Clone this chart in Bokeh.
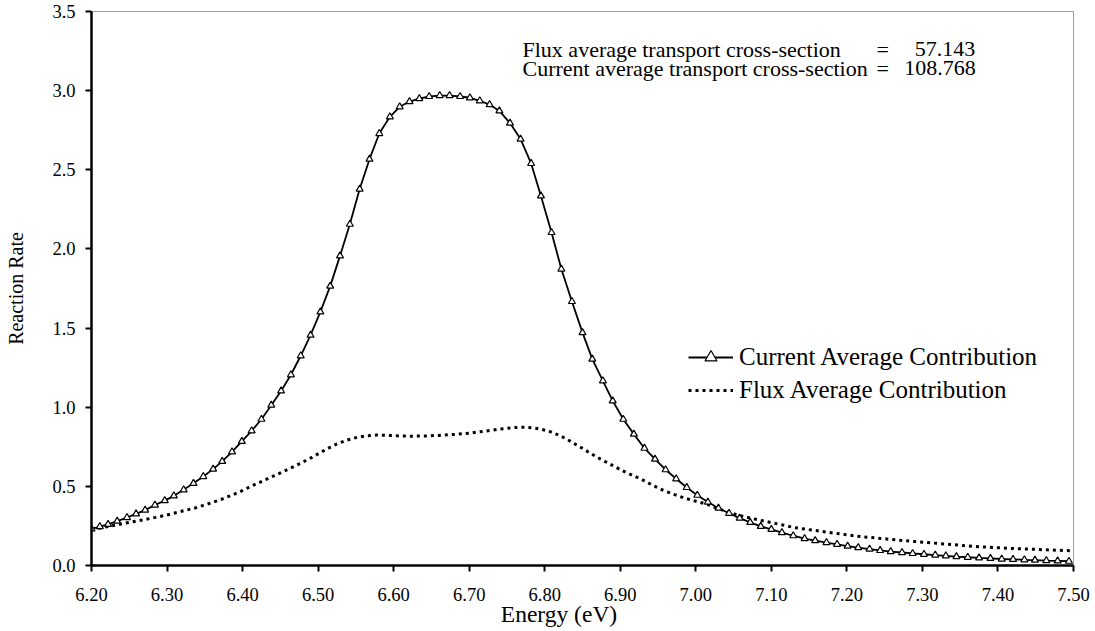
from bokeh.plotting import figure
from bokeh.models import (FixedTicker, PrintfTickFormatter, Legend, LegendItem,
                          Label, Range1d, ColumnDataSource)
from bokeh.embed import file_html
from bokeh.resources import INLINE

# ---------------- data ----------------
current_energy = [
    6.200, 6.211, 6.222, 6.234, 6.247, 6.259, 6.271, 6.284, 6.297, 6.309,
    6.322, 6.335, 6.348, 6.361, 6.373, 6.386, 6.399, 6.412, 6.425, 6.438,
    6.451, 6.464, 6.477, 6.490, 6.503, 6.516, 6.529, 6.542, 6.555, 6.568,
    6.581, 6.595, 6.608, 6.621, 6.634, 6.647, 6.661, 6.674, 6.688, 6.701,
    6.714, 6.727, 6.740, 6.754, 6.768, 6.782, 6.795, 6.809, 6.822, 6.836,
    6.850, 6.863, 6.877, 6.890, 6.904, 6.918, 6.932, 6.946, 6.960, 6.974,
    6.988, 7.002, 7.016, 7.030, 7.044, 7.058, 7.072, 7.086, 7.100, 7.114,
    7.129, 7.144, 7.158, 7.173, 7.187, 7.201, 7.215, 7.230, 7.244, 7.258,
    7.273, 7.287, 7.302, 7.317, 7.331, 7.345, 7.360, 7.375, 7.390, 7.405,
    7.420, 7.435, 7.449, 7.464, 7.479, 7.494,
]
current_rate = [
    0.232, 0.246, 0.260, 0.280, 0.303, 0.326, 0.350, 0.382, 0.410, 0.440,
    0.478, 0.519, 0.562, 0.609, 0.658, 0.718, 0.784, 0.851, 0.924, 1.013,
    1.103, 1.205, 1.325, 1.455, 1.602, 1.765, 1.956, 2.156, 2.378, 2.567,
    2.729, 2.835, 2.898, 2.931, 2.950, 2.963, 2.969, 2.969, 2.963, 2.955,
    2.936, 2.912, 2.872, 2.795, 2.694, 2.540, 2.335, 2.104, 1.873, 1.668,
    1.471, 1.304, 1.167, 1.040, 0.924, 0.830, 0.741, 0.672, 0.605, 0.548,
    0.493, 0.444, 0.401, 0.362, 0.330, 0.299, 0.272, 0.247, 0.228, 0.208,
    0.188, 0.170, 0.157, 0.145, 0.134, 0.122, 0.113, 0.104, 0.095, 0.088,
    0.082, 0.076, 0.071, 0.066, 0.061, 0.056, 0.052, 0.048, 0.045, 0.041,
    0.039, 0.036, 0.034, 0.031, 0.029, 0.027,
]

flux_energy = [
    6.200, 6.215, 6.232, 6.245, 6.259, 6.272, 6.285, 6.297, 6.309, 6.322,
    6.336, 6.348, 6.360, 6.373, 6.386, 6.397, 6.411, 6.422, 6.435, 6.448,
    6.461, 6.475, 6.488, 6.501, 6.513, 6.525, 6.538, 6.552, 6.565, 6.578,
    6.592, 6.605, 6.620, 6.640, 6.660, 6.680, 6.700, 6.720, 6.740, 6.760,
    6.775, 6.790, 6.805, 6.821, 6.835, 6.848, 6.861, 6.874, 6.889, 6.903,
    6.918, 6.932, 6.945, 6.958, 6.972, 6.985, 7.000, 7.016, 7.030, 7.044,
    7.058, 7.073, 7.086, 7.099, 7.115, 7.130, 7.146, 7.161, 7.174, 7.187,
    7.203, 7.218, 7.245, 7.267, 7.289, 7.311, 7.333, 7.355, 7.377, 7.400,
    7.421, 7.443, 7.465, 7.500,
]
flux_rate = [
    0.225, 0.240, 0.255, 0.268, 0.280, 0.292, 0.304, 0.316, 0.330, 0.346,
    0.362, 0.380, 0.398, 0.420, 0.445, 0.467, 0.500, 0.524, 0.553, 0.580,
    0.610, 0.642, 0.673, 0.708, 0.740, 0.768, 0.792, 0.810, 0.820, 0.824,
    0.822, 0.819, 0.817, 0.818, 0.822, 0.828, 0.836, 0.848, 0.862, 0.872,
    0.874, 0.866, 0.850, 0.819, 0.782, 0.745, 0.708, 0.672, 0.634, 0.598,
    0.566, 0.535, 0.502, 0.472, 0.448, 0.426, 0.406, 0.385, 0.358, 0.335,
    0.316, 0.299, 0.285, 0.272, 0.256, 0.240, 0.229, 0.219, 0.210, 0.202,
    0.192, 0.183, 0.171, 0.161, 0.152, 0.143, 0.135, 0.126, 0.118, 0.112,
    0.107, 0.103, 0.099, 0.093,
]

x_ticks = [6.2, 6.3, 6.4, 6.5, 6.6, 6.7, 6.8, 6.9, 7.0, 7.1, 7.2, 7.3, 7.4, 7.5]
y_ticks = [0.0, 0.5, 1.0, 1.5, 2.0, 2.5, 3.0, 3.5]

series_names = ["Current Average Contribution", "Flux Average Contribution"]
x_title = "Energy (eV)"
y_title = "Reaction Rate"
note_names = ["Flux average transport cross-section",
              "Current average transport cross-section"]
note_values = ["57.143", "108.768"]

FONT = "Liberation Serif"

# ---------------- figure ----------------
p = figure(width=1092, height=631,
           x_range=Range1d(6.2, 7.5), y_range=Range1d(0.0, 3.5),
           output_backend="svg", toolbar_location=None,
           min_border_left=91, min_border_right=19,
           min_border_top=11, min_border_bottom=66)
p.background_fill_color = "white"
p.border_fill_color = "white"
p.xgrid.visible = False
p.ygrid.visible = False
p.outline_line_color = "#a0a0a0"
p.outline_line_width = 1

for ax in (p.xaxis[0], p.yaxis[0]):
    ax.axis_line_color = "black"
    ax.axis_line_width = 2.5
    ax.major_tick_line_color = "black"
    ax.major_tick_line_width = 2
    ax.major_tick_in = 0
    ax.major_tick_out = 6
    ax.minor_tick_line_color = None
    ax.major_label_text_font = FONT
    ax.major_label_text_font_size = "18.5px"
    ax.major_label_text_color = "black"
    ax.axis_label_text_font = FONT
    ax.axis_label_text_font_style = "normal"
    ax.axis_label_text_color = "black"

p.xaxis.ticker = FixedTicker(ticks=x_ticks)
p.xaxis.formatter = PrintfTickFormatter(format="%.2f")
p.xaxis.major_label_standoff = 16
# trailing no-break spaces move the visible title left of the frame centre,
# where the reference shows it
p.xaxis.axis_label = x_title + "\u00a0" * 8
p.xaxis.axis_label_text_font_size = "23.5px"
p.xaxis.axis_label_standoff = -3

p.yaxis.ticker = FixedTicker(ticks=y_ticks)
p.yaxis.formatter = PrintfTickFormatter(format="%.1f")
p.yaxis.major_label_standoff = 10
p.yaxis.axis_label = y_title
p.yaxis.axis_label_text_font_size = "20px"
p.yaxis.axis_label_standoff = 22

# ---------------- series ----------------
cur_src = ColumnDataSource(dict(x=current_energy, y=current_rate))
flux_src = ColumnDataSource(dict(x=flux_energy, y=flux_rate))

flux_line = p.line("x", "y", source=flux_src, line_color="black",
                   line_width=3, line_dash="3 4")
cur_line = p.line("x", "y", source=cur_src, line_color="black", line_width=1.8)
cur_marks = p.scatter("x", "y", source=cur_src, marker="triangle", size=7,
                      fill_color="white", line_color="black", line_width=1.2)

legend = Legend(items=[
    LegendItem(label=series_names[0], renderers=[cur_line, cur_marks]),
    LegendItem(label=series_names[1], renderers=[flux_line]),
], location=(597, 160))
legend.background_fill_alpha = 0
legend.border_line_alpha = 0
legend.padding = 0
legend.margin = 0
legend.glyph_width = 45
legend.glyph_height = 30
legend.label_height = 30
legend.spacing = 3
legend.label_standoff = 6
legend.label_text_font = FONT
legend.label_text_font_size = "25px"
legend.label_text_color = "black"
p.add_layout(legend)

# ---------------- annotation text ----------------
note_style = dict(text_font=FONT, text_font_size="22px", text_color="black",
                  text_baseline="alphabetic")
note_rows_y = [3.262, 3.140]          # baselines of the two text rows
note_name_x, note_eq_x = 6.7706, 7.2392
note_value_center = [7.3299, 7.3233]
for name, val, yy, xc in zip(note_names, note_values, note_rows_y,
                             note_value_center):
    p.add_layout(Label(x=note_name_x, y=yy, text=name, **note_style))
    p.add_layout(Label(x=note_eq_x, y=yy, text="=", **note_style))
    p.add_layout(Label(x=xc, y=yy, text=val, text_align="center", **note_style))

open("out.html", "w").write(file_html(p, INLINE))
